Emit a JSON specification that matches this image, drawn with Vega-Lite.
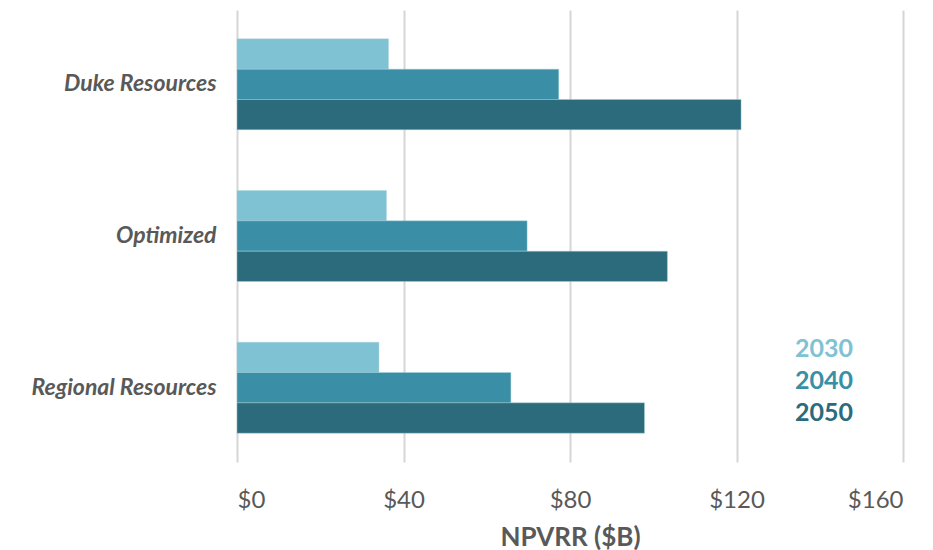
{
  "$schema": "https://vega.github.io/schema/vega-lite/v6.json",
  "width": 666,
  "height": 452,
  "autosize": "none",
  "padding": {"left": 237, "top": 10, "right": 30, "bottom": 88},
  "background": "white",
  "config": {
    "view": {"stroke": null},
    "font": "Lato"
  },
  "data": {
    "values": [
      {"scenario": "Duke Resources", "year": "2030", "npvrr": 36.4},
      {"scenario": "Duke Resources", "year": "2040", "npvrr": 77.3},
      {"scenario": "Duke Resources", "year": "2050", "npvrr": 121.1},
      {"scenario": "Optimized", "year": "2030", "npvrr": 35.9},
      {"scenario": "Optimized", "year": "2040", "npvrr": 69.7},
      {"scenario": "Optimized", "year": "2050", "npvrr": 103.4},
      {"scenario": "Regional Resources", "year": "2030", "npvrr": 34.1},
      {"scenario": "Regional Resources", "year": "2040", "npvrr": 65.8},
      {"scenario": "Regional Resources", "year": "2050", "npvrr": 97.9}
    ]
  },
  "mark": {"type": "bar", "stroke": "#a9d4df", "strokeWidth": 0.6, "strokeOpacity": 0.7},
  "encoding": {
    "y": {
      "field": "scenario",
      "type": "nominal",
      "sort": ["Duke Resources", "Optimized", "Regional Resources"],
      "scale": {"paddingInner": 0.4, "paddingOuter": 0.19},
      "axis": {
        "title": null,
        "ticks": false,
        "domain": false,
        "labelFontSize": 23,
        "labelFontWeight": "bold",
        "labelFontStyle": "italic",
        "labelColor": "#595959",
        "labelPadding": 21,
        "labelLimit": 300
      }
    },
    "yOffset": {
      "field": "year",
      "type": "nominal",
      "sort": ["2030", "2040", "2050"],
      "scale": {"paddingInner": 0, "paddingOuter": 0}
    },
    "x": {
      "field": "npvrr",
      "type": "quantitative",
      "scale": {"domain": [0, 160], "nice": false},
      "axis": {
        "values": [0, 40, 80, 120, 160],
        "labelExpr": "'$' + datum.value",
        "title": "NPVRR ($B)",
        "titleFontSize": 26,
        "titleFontWeight": "bold",
        "titleColor": "#595959",
        "titlePadding": 12,
        "labelFontSize": 24,
        "labelColor": "#595959",
        "labelPadding": 26,
        "ticks": false,
        "domain": false,
        "grid": true,
        "gridColor": "#d6d6d6",
        "gridWidth": 2
      }
    },
    "color": {
      "field": "year",
      "type": "nominal",
      "scale": {"domain": ["2030", "2040", "2050"], "range": ["#7fc2d3", "#3a8fa6", "#2b6b7b"]},
      "legend": {
        "title": null,
        "orient": "none",
        "legendX": 533,
        "legendY": 326,
        "symbolSize": 0,
        "symbolStrokeWidth": 0,
        "symbolOpacity": 0,
        "labelOffset": 0,
        "labelFontSize": 25,
        "labelFontWeight": "bold",
        "rowPadding": 6,
        "labelColor": {"expr": "datum.value == '2030' ? '#7fc2d3' : datum.value == '2040' ? '#3a8fa6' : '#2b6b7b'"}
      }
    }
  }
}
